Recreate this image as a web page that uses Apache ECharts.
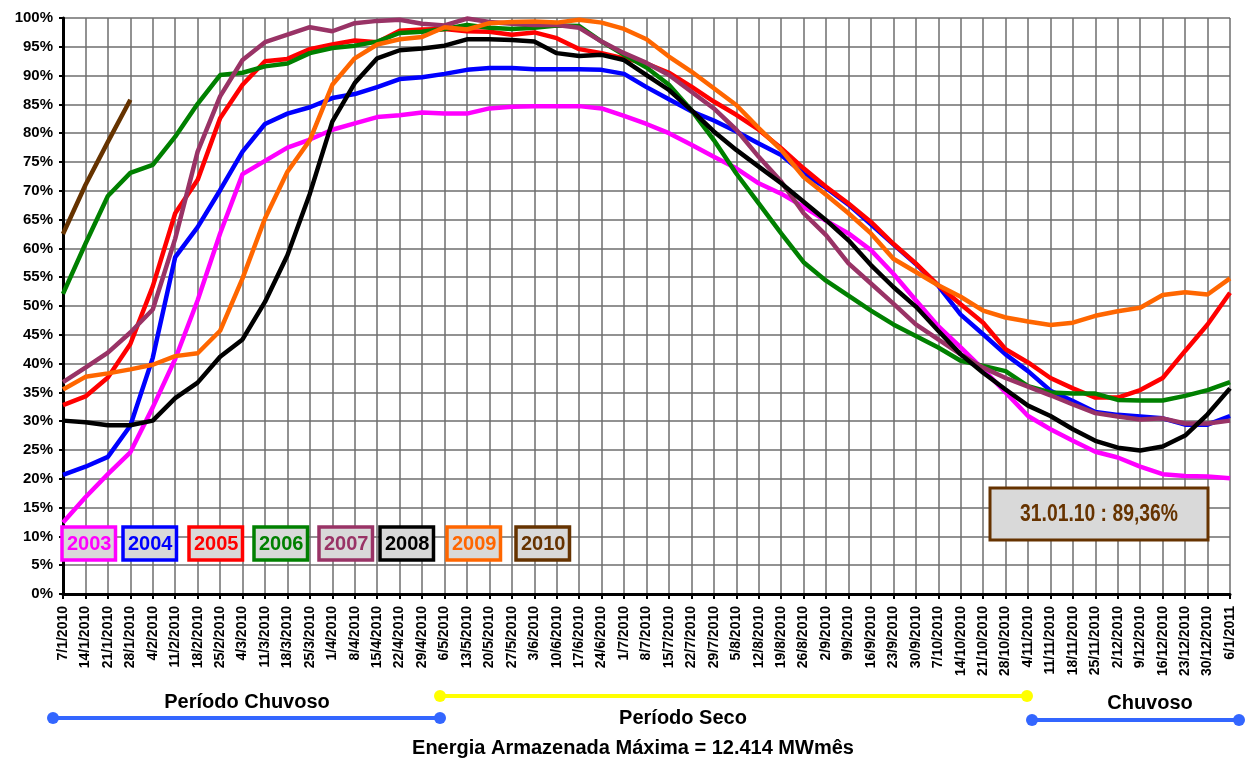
<!DOCTYPE html>
<html>
<head>
<meta charset="utf-8">
<script src="https://cdn.jsdelivr.net/npm/echarts@6/dist/echarts.min.js"></script>
<style>
  html, body { margin: 0; padding: 0; background: #fff; }
  #chart { width: 1247px; height: 762px; }
</style>
</head>
<body>
<div id="chart"></div>
<script>
// semanas (eixo x)
var categorias = ['7/1/2010','14/1/2010','21/1/2010','28/1/2010','4/2/2010','11/2/2010','18/2/2010','25/2/2010',
  '4/3/2010','11/3/2010','18/3/2010','25/3/2010','1/4/2010','8/4/2010','15/4/2010','22/4/2010','29/4/2010',
  '6/5/2010','13/5/2010','20/5/2010','27/5/2010','3/6/2010','10/6/2010','17/6/2010','24/6/2010','1/7/2010',
  '8/7/2010','15/7/2010','22/7/2010','29/7/2010','5/8/2010','12/8/2010','19/8/2010','26/8/2010','2/9/2010',
  '9/9/2010','16/9/2010','23/9/2010','30/9/2010','7/10/2010','14/10/2010','21/10/2010','28/10/2010',
  '4/11/2010','11/11/2010','18/11/2010','25/11/2010','2/12/2010','9/12/2010','16/12/2010','23/12/2010',
  '30/12/2010','6/1/2011'];

var anos = ['2003','2004','2005','2006','2007','2008','2009','2010'];
var cores = ['#ff00ff','#0000ff','#ff0000','#008000','#993366','#000000','#ff6600','#663300'];

// % da energia armazenada máxima
var d2003 = [12.4,16.8,20.8,24.6,32.4,40.8,51.0,62.6,72.9,75.2,77.5,78.9,80.6,81.7,82.8,83.1,83.6,83.4,83.4,84.3,
  84.6,84.7,84.7,84.7,84.3,83.0,81.6,80.0,78.0,75.9,73.9,71.3,69.5,67.2,64.8,62.6,59.7,55.6,51.0,46.5,42.8,39.0,
  35.0,30.9,28.6,26.6,24.7,23.7,22.1,20.8,20.5,20.4,20.1];
var d2004 = [20.7,22.1,23.8,29.2,41.0,58.5,63.7,70.1,76.8,81.6,83.4,84.5,86.1,86.8,88.0,89.4,89.7,90.3,91.0,91.3,
  91.3,91.1,91.1,91.1,91.0,90.3,88.0,85.9,83.8,82.2,80.3,78.2,76.2,73.0,70.5,67.6,64.2,60.7,57.3,53.5,48.5,45.1,
  41.6,38.7,35.3,33.5,31.6,31.1,30.8,30.5,29.4,29.4,30.9];
var d2005 = [32.8,34.3,37.6,43.4,53.4,66.1,71.9,82.6,88.4,92.5,92.9,94.6,95.4,96.1,95.8,97.8,98.0,98.1,97.7,97.6,
  97.1,97.5,96.5,94.6,93.9,93.0,92.1,90.5,88.1,85.5,83.2,80.6,77.4,73.9,70.7,67.8,64.6,60.8,57.4,53.6,50.3,47.1,
  42.5,40.2,37.5,35.7,34.1,34.1,35.4,37.5,42.2,46.8,52.3];
var d2006 = [52.1,60.8,69.1,73.1,74.5,79.4,85.1,90.1,90.5,91.6,92.1,93.9,94.8,95.2,95.9,97.4,97.6,98.1,98.8,98.3,
  98.1,98.3,98.7,98.6,95.9,93.6,91.4,88.4,84.0,78.8,73.0,67.8,62.6,57.6,54.4,51.8,49.2,46.8,44.8,42.8,40.5,39.6,
  38.7,36.1,35.0,34.8,34.8,33.7,33.6,33.6,34.4,35.4,36.8];
var d2007 = [36.8,39.3,41.9,45.4,49.4,61.7,76.8,86.4,92.7,95.8,97.1,98.4,97.7,99.1,99.5,99.7,99.0,98.7,99.9,99.3,
  99.0,98.8,98.8,98.3,95.9,93.9,92.2,90.1,87.2,84.3,80.6,75.9,71.6,66.1,62.3,57.4,53.9,50.4,46.8,44.2,41.6,39.3,
  37.5,36.0,34.5,32.9,31.4,30.8,30.3,30.5,29.6,29.6,30.1];
var d2008 = [30.1,29.8,29.3,29.3,30.1,34.0,36.7,41.2,44.2,50.7,58.8,69.5,82.0,88.7,93.0,94.4,94.7,95.2,96.3,96.3,
  96.2,95.9,93.9,93.4,93.6,92.7,90.1,87.5,84.0,80.3,77.1,74.2,71.3,68.1,64.9,61.4,57.1,53.3,49.9,45.7,41.6,38.4,
  35.5,32.7,30.9,28.6,26.6,25.4,24.9,25.6,27.5,31.2,35.7];
var d2009 = [35.5,37.7,38.3,39.0,39.8,41.3,41.8,45.7,54.8,65.2,73.3,78.8,88.4,93.0,95.4,96.3,96.7,98.4,98.0,99.1,
  99.3,99.4,99.2,99.7,99.2,98.1,96.3,93.3,90.7,87.8,84.9,80.9,77.1,72.4,69.3,66.1,62.6,58.2,55.9,53.6,51.6,49.2,
  48.0,47.3,46.7,47.1,48.3,49.1,49.7,51.9,52.4,52.0,54.8];
var d2010 = [62.5,71.0,78.5,85.8];

var dados = [d2003, d2004, d2005, d2006, d2007, d2008, d2009, d2010];

var fonte = "'Liberation Sans', Arial, sans-serif";

var series = anos.map(function (ano, i) {
    return {
        name: ano,
        type: 'line',
        data: dados[i],
        symbol: 'none',
        lineStyle: { color: cores[i], width: 4.5 },
        itemStyle: { color: cores[i] },
        animation: false
    };
});

// caixinhas da legenda
var legendLeft = [62, 123, 189, 254, 319, 380, 447, 516];
var legends = anos.map(function (ano, i) {
    return {
        data: [ano],
        left: legendLeft[i],
        top: 527,
        icon: 'rect',
        itemWidth: 0,
        itemHeight: 0,
        selectedMode: false,
        backgroundColor: '#d9d9d9',
        borderColor: cores[i],
        borderWidth: 3.5,
        borderRadius: 0,
        padding: [7, 4, 6, 0],
        textStyle: { color: cores[i], fontSize: 20, fontWeight: 'bold', fontFamily: fonte }
    };
});

function periodo(x1, x2, y, cor) {
    return [
        { type: 'line', shape: { x1: x1, y1: y, x2: x2, y2: y }, style: { stroke: cor, lineWidth: 4 } },
        { type: 'circle', shape: { cx: x1, cy: y, r: 6 }, style: { fill: cor } },
        { type: 'circle', shape: { cx: x2, cy: y, r: 6 }, style: { fill: cor } }
    ];
}

function texto(x, y, t) {
    return {
        type: 'text', x: x, y: y,
        style: { text: t, fill: '#000', font: 'bold 20px ' + fonte, align: 'center', verticalAlign: 'middle' }
    };
}

var graficos = []
    .concat(periodo(53, 440, 718, '#3366ff'))
    .concat(periodo(440, 1027, 696, '#ffff00'))
    .concat(periodo(1032, 1239, 720, '#3366ff'))
    .concat([
        texto(247, 702, 'Período Chuvoso'),
        texto(683, 718, 'Período Seco'),
        texto(1150, 703, 'Chuvoso'),
        texto(633, 748, 'Energia Armazenada Máxima = 12.414 MWmês'),
        {
            type: 'rect', shape: { x: 990, y: 488, width: 218, height: 52 },
            style: { fill: '#d9d9d9', stroke: '#663300', lineWidth: 3 }, z: 100
        },
        {
            type: 'text', x: 1099, y: 515, z: 101, scaleX: 0.84,
            style: { text: '31.01.10 : 89,36%', fill: '#663300', font: 'bold 23px ' + fonte,
                align: 'center', verticalAlign: 'middle' }
        }
    ]);

var option = {
    backgroundColor: '#ffffff',
    animation: false,
    grid: { left: 63, right: 17, top: 18, bottom: 168, containLabel: false },
    legend: legends,
    xAxis: {
        type: 'category',
        data: categorias,
        boundaryGap: false,
        axisLine: { show: true, lineStyle: { color: '#000', width: 3 } },
        axisTick: { show: true, alignWithLabel: true, interval: 0, length: 5, lineStyle: { color: '#000', width: 2 } },
        axisLabel: { interval: 0, rotate: 90, margin: 12, color: '#000', fontSize: 14, fontWeight: 'bold', fontFamily: fonte },
        splitLine: { show: true, interval: 0, lineStyle: { color: '#6e6e6e', width: 1.5 } }
    },
    yAxis: {
        type: 'value',
        min: 0,
        max: 100,
        interval: 5,
        axisLine: { show: true, lineStyle: { color: '#000', width: 3 } },
        axisTick: { show: true, length: 4, lineStyle: { color: '#000', width: 2 } },
        axisLabel: { formatter: '{value}%', color: '#000', fontSize: 15, fontWeight: 'bold', fontFamily: fonte, margin: 10 },
        splitLine: { show: true, lineStyle: { color: '#6e6e6e', width: 1.5 } }
    },
    series: series,
    graphic: graficos
};

var myChart = echarts.init(document.getElementById('chart'));
myChart.setOption(option);
window.addEventListener('resize', function () {
    myChart.resize();
});
</script>
</body>
</html>
